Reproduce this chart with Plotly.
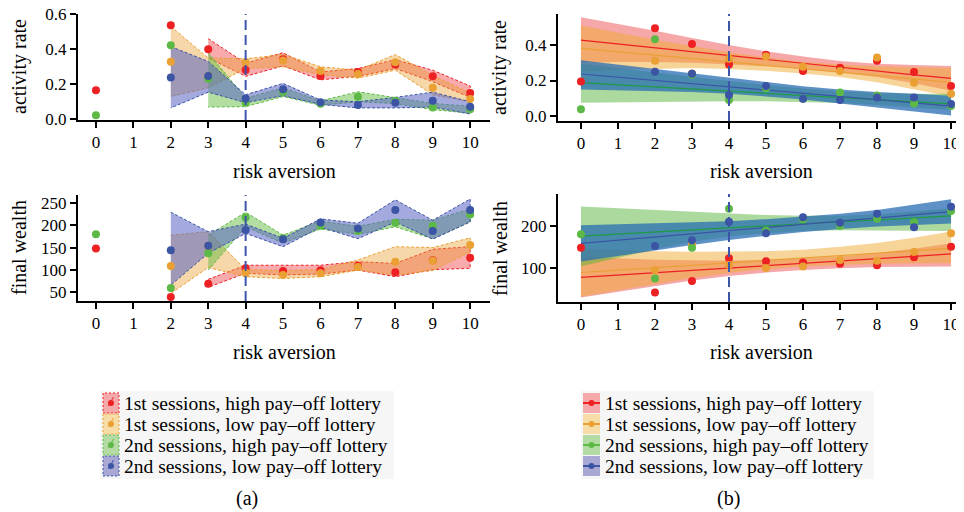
import plotly.graph_objects as go

# page body has an 8px margin; figure is sized to fill the rest of the 964x512 window
OFF = 8
W, H = 964 - OFF, 512 - OFF
FONT = "Liberation Serif"

def px(x):
    return (x - OFF) / W

def py(y):
    return 1 - (y - OFF) / H

# ---------------- data ----------------
xs = [0, 1, 2, 3, 4, 5, 6, 7, 8, 9, 10]
labels = ["1st sessions, high pay\u2013off lottery",
          "1st sessions, low pay\u2013off lottery",
          "2nd sessions, high pay\u2013off lottery",
          "2nd sessions, low pay\u2013off lottery"]

# (a) activity rate: means and bands
a_act_red = [0.166, None, 0.537, 0.400, 0.281, 0.342, 0.247, 0.270, 0.313, 0.245, 0.150]
a_act_org = [None, None, 0.328, 0.247, 0.325, 0.335, 0.275, 0.258, 0.325, 0.180, 0.116]
a_act_grn = [0.023, None, 0.423, 0.232, 0.095, 0.156, 0.089, 0.129, 0.106, 0.068, 0.057]
a_act_blu = [None, None, 0.239, 0.247, 0.118, 0.171, 0.097, 0.082, 0.095, 0.106, 0.072]
a_act_red_lo = [None, None, None, 0.35, 0.245, 0.305, 0.225, 0.245, 0.29, 0.215, 0.125]
a_act_red_hi = [None, None, None, 0.46, 0.32, 0.38, 0.27, 0.29, 0.34, 0.28, 0.19]
a_act_org_lo = [None, None, 0.13, 0.18, 0.29, 0.30, 0.255, 0.235, 0.28, 0.14, 0.10]
a_act_org_hi = [None, None, 0.53, 0.35, 0.345, 0.37, 0.30, 0.28, 0.37, 0.25, 0.15]
a_act_grn_lo = [None, None, None, 0.07, 0.072, 0.13, 0.08, 0.10, 0.09, 0.055, 0.035]
a_act_grn_hi = [None, None, None, 0.38, 0.12, 0.18, 0.105, 0.157, 0.125, 0.09, 0.075]
a_act_blu_lo = [None, None, 0.065, 0.155, 0.095, 0.135, 0.085, 0.065, 0.065, 0.07, 0.03]
a_act_blu_hi = [None, None, 0.415, 0.33, 0.14, 0.205, 0.11, 0.10, 0.125, 0.155, 0.10]

# (a) final wealth
a_wl_red = [148, None, 38, 68, 103, 97, 98.5, 109, 94, 121, 127]
a_wl_org = [None, None, 108, 153, 93, 88, 91.6, 106, 118, 120, 155.7]
a_wl_grn = [180, None, 58.5, 137, 218, 171, 199.4, 187.3, 206, 199.3, 225]
a_wl_blu = [None, None, 144, 154, 190, 169, 207, 193.4, 234.8, 187.3, 234.8]
a_wl_red_lo = [None, None, None, 60, 92, 88, 90, 99, 84, 100, 103]
a_wl_red_hi = [None, None, None, 78, 110, 110, 110, 118, 114, 146, 152]
a_wl_org_lo = [None, None, 46, 105, 84, 80, 84, 99, 88, 98, 140]
a_wl_org_hi = [None, None, 178, 186, 100, 98, 100, 122, 152, 150, 172]
a_wl_grn_lo = [None, None, None, 99, 197, 160, 192, 180, 197, 170, 208]
a_wl_grn_hi = [None, None, None, 178, 230, 178, 210, 198, 214, 212, 237]
a_wl_blu_lo = [None, None, 65, 137, 182, 152, 196, 170, 208, 169, 208]
a_wl_blu_hi = [None, None, 230, 186, 203, 171, 215, 205, 258, 212, 260]

# (b) activity rate: points, fitted lines, confidence bands
b_act_red = [0.195, None, 0.494, 0.406, 0.291, 0.346, 0.254, 0.272, 0.312, 0.248, 0.169]
b_act_org = [None, None, 0.312, 0.24, 0.323, 0.336, 0.278, 0.254, 0.330, 0.188, 0.126]
b_act_grn = [0.038, None, 0.432, 0.233, 0.090, 0.156, 0.098, 0.133, 0.116, 0.071, 0.056]
b_act_blu = [None, None, 0.250, 0.238, 0.118, 0.169, 0.098, 0.090, 0.105, 0.105, 0.068]
b_act_red_fit = [0.428, 0.406, 0.384, 0.363, 0.341, 0.319, 0.297, 0.275, 0.254, 0.232, 0.212]
b_act_red_lo = [0.30, 0.305, 0.305, 0.30, 0.29, 0.28, 0.265, 0.245, 0.22, 0.185, 0.143]
b_act_red_hi = [0.556, 0.52, 0.48, 0.44, 0.40, 0.365, 0.335, 0.31, 0.295, 0.287, 0.282]
b_act_org_fit = [0.381, 0.362, 0.343, 0.324, 0.305, 0.286, 0.267, 0.248, 0.229, 0.21, 0.19]
b_act_org_lo = [0.25, 0.26, 0.265, 0.27, 0.265, 0.255, 0.24, 0.22, 0.19, 0.15, 0.11]
b_act_org_hi = [0.51, 0.47, 0.43, 0.395, 0.36, 0.33, 0.305, 0.29, 0.28, 0.275, 0.27]
b_act_grn_fit = [0.188, 0.176, 0.164, 0.152, 0.140, 0.128, 0.116, 0.104, 0.092, 0.080, 0.068]
b_act_grn_lo = [0.075, 0.078, 0.08, 0.082, 0.083, 0.083, 0.08, 0.073, 0.062, 0.05, 0.034]
b_act_grn_hi = [0.295, 0.27, 0.245, 0.22, 0.197, 0.175, 0.155, 0.14, 0.13, 0.125, 0.125]
b_act_blu_fit = [0.237, 0.219, 0.201, 0.183, 0.165, 0.147, 0.129, 0.111, 0.093, 0.075, 0.056]
b_act_blu_lo = [0.15, 0.145, 0.14, 0.135, 0.125, 0.11, 0.093, 0.07, 0.05, 0.025, 0.003]
b_act_blu_hi = [0.315, 0.29, 0.265, 0.24, 0.215, 0.19, 0.168, 0.15, 0.135, 0.125, 0.115]

# (b) final wealth
b_wl_red = [148.8, None, 42.5, 70, 123.6, 116.5, 113.4, 111, 107, 126, 151]
b_wl_org = [None, None, 96, 156.7, 108, 100.8, 104, 119.7, 118, 138.6, 182.7]
b_wl_grn = [180.3, None, 75.6, 148.8, 241, 189, 215.7, 200, 217.3, 208.7, 235.4]
b_wl_blu = [None, None, 152.8, 166, 210, 182.7, 220.5, 207.9, 229, 196.9, 245.7]
b_wl_red_fit = [78.7, 84, 89.7, 95, 100.8, 106.3, 112, 117, 122.8, 128, 134]
b_wl_red_lo = [31, 45, 58, 71, 82, 90, 96, 100, 103, 104, 104]
b_wl_red_hi = [127, 123, 120, 119, 118, 120, 123, 128, 136, 146, 159]
b_wl_org_fit = [90, 95.7, 101.4, 107, 112.8, 118.5, 124, 130, 135.6, 141.3, 147]
b_wl_org_lo = [33, 48, 63, 77, 89, 98, 104, 108, 111, 112, 112]
b_wl_org_hi = [147, 143, 140, 139, 139, 140, 144, 151, 160, 172, 187]
b_wl_grn_fit = [176, 181, 186, 190, 195, 200, 205, 210, 214, 219, 224]
b_wl_grn_lo = [105, 125, 145, 163, 175, 183, 188, 190, 190, 189, 188]
b_wl_grn_hi = [246, 242, 238, 234, 230, 226, 224, 224, 228, 234, 242]
b_wl_blu_fit = [159, 166.5, 174, 181.5, 189, 196.5, 204, 211.5, 219, 226.5, 234]
b_wl_blu_lo = [116, 129, 142, 155, 167, 177, 186, 193, 199, 203, 206]
b_wl_blu_hi = [202, 204, 206, 208, 211, 216, 222, 229, 238, 250, 263]

# ---------------- styles ----------------
pt_colors = ["#ED2024", "#EAA033", "#5DB946", "#3B54A4"]
line_colors = ["#ED2024", "#EAA033", "#1F9A45", "#3B54A4"]
fill_a = ["rgba(237,32,36,0.38)", "rgba(234,160,51,0.42)",
          "rgba(95,185,60,0.48)", "rgba(89,100,195,0.55)"]
fill_b = ["rgba(235,60,60,0.45)", "rgba(240,170,50,0.5)",
          "rgba(90,180,60,0.5)", "rgba(40,110,180,0.75)"]
swatch = ["#F4A9AB", "#F6DCA6", "#B4DBA3", "#A9A8D4"]

fig = go.Figure()


def band(lo, hi, xa, ya, fill, lcol=None):
    bx = [x for x, v in zip(xs, lo) if v is not None]
    blo = [v for v in lo if v is not None]
    bhi = [v for v in hi if v is not None]
    line = dict(width=0) if lcol is None else dict(color=lcol, width=1, dash="3px,2px")
    fig.add_trace(go.Scatter(x=bx + bx[::-1], y=bhi + blo[::-1], fill="toself",
                             fillcolor=fill, mode="lines", line=line,
                             xaxis=xa, yaxis=ya, showlegend=False, hoverinfo="skip"))


def points(vals, xa, ya, col):
    fig.add_trace(go.Scatter(x=xs, y=vals, mode="markers",
                             marker=dict(color=col, size=8),
                             xaxis=xa, yaxis=ya, showlegend=False))


def fitline(vals, xa, ya, col):
    fig.add_trace(go.Scatter(x=xs, y=vals, mode="lines",
                             line=dict(color=col, width=1.2),
                             xaxis=xa, yaxis=ya, showlegend=False))


# (a) activity
for lo, hi, i in [(a_act_red_lo, a_act_red_hi, 0), (a_act_org_lo, a_act_org_hi, 1),
                  (a_act_grn_lo, a_act_grn_hi, 2), (a_act_blu_lo, a_act_blu_hi, 3)]:
    band(lo, hi, "x", "y", fill_a[i], pt_colors[i])
for v, i in [(a_act_red, 0), (a_act_org, 1), (a_act_grn, 2), (a_act_blu, 3)]:
    points(v, "x", "y", pt_colors[i])

# (a) wealth
for lo, hi, i in [(a_wl_red_lo, a_wl_red_hi, 0), (a_wl_org_lo, a_wl_org_hi, 1),
                  (a_wl_grn_lo, a_wl_grn_hi, 2), (a_wl_blu_lo, a_wl_blu_hi, 3)]:
    band(lo, hi, "x2", "y2", fill_a[i], pt_colors[i])
for v, i in [(a_wl_red, 0), (a_wl_org, 1), (a_wl_grn, 2), (a_wl_blu, 3)]:
    points(v, "x2", "y2", pt_colors[i])

# (b) activity
for lo, hi, i in [(b_act_red_lo, b_act_red_hi, 0), (b_act_org_lo, b_act_org_hi, 1),
                  (b_act_grn_lo, b_act_grn_hi, 2), (b_act_blu_lo, b_act_blu_hi, 3)]:
    band(lo, hi, "x3", "y3", fill_b[i])
for v, i in [(b_act_red_fit, 0), (b_act_org_fit, 1), (b_act_grn_fit, 2), (b_act_blu_fit, 3)]:
    fitline(v, "x3", "y3", line_colors[i])
for v, i in [(b_act_red, 0), (b_act_org, 1), (b_act_grn, 2), (b_act_blu, 3)]:
    points(v, "x3", "y3", pt_colors[i])

# (b) wealth
for lo, hi, i in [(b_wl_red_lo, b_wl_red_hi, 0), (b_wl_org_lo, b_wl_org_hi, 1),
                  (b_wl_grn_lo, b_wl_grn_hi, 2), (b_wl_blu_lo, b_wl_blu_hi, 3)]:
    band(lo, hi, "x4", "y4", fill_b[i])
for v, i in [(b_wl_red_fit, 0), (b_wl_org_fit, 1), (b_wl_grn_fit, 2), (b_wl_blu_fit, 3)]:
    fitline(v, "x4", "y4", line_colors[i])
for v, i in [(b_wl_red, 0), (b_wl_org, 1), (b_wl_grn, 2), (b_wl_blu, 3)]:
    points(v, "x4", "y4", pt_colors[i])

# ---------------- axes ----------------
tickfont = dict(family=FONT, size=17, color="black")
common = dict(showline=True, linecolor="black", linewidth=2, ticks="outside",
              ticklen=6, tickwidth=1.5, tickcolor="black", tickfont=tickfont,
              showgrid=False, zeroline=False, fixedrange=True, automargin=False,
              ticklabeloverflow="allow")
xt = dict(tickmode="array", tickvals=xs, ticktext=[str(v) for v in xs])

left_dom = [px(78), px(490)]
right_dom = [px(558), px(964)]
fig.update_layout(
    xaxis=dict(domain=left_dom, range=[-0.48, 10.53], anchor="y", **xt, **common),
    yaxis=dict(domain=[py(120), py(14)], range=[-0.004, 0.6008], anchor="x",
               tickvals=[0.0, 0.2, 0.4, 0.6], ticktext=["0.0", "0.2", "0.4", "0.6"], **common),
    xaxis2=dict(domain=left_dom, range=[-0.48, 10.53], anchor="y2", **xt, **common),
    yaxis2=dict(domain=[py(301), py(195)], range=[29, 269], anchor="x2",
                tickvals=[50, 100, 150, 200, 250], **common),
    xaxis3=dict(domain=right_dom, range=[-0.62, 10.35], anchor="y3", **xt, **common),
    yaxis3=dict(domain=[py(121), py(14)], range=[-0.028, 0.575], anchor="x3",
                tickvals=[0.0, 0.2, 0.4], ticktext=["0.0", "0.2", "0.4"], **common),
    xaxis4=dict(domain=right_dom, range=[-0.62, 10.35], anchor="y4", **xt, **common),
    yaxis4=dict(domain=[py(302), py(194)], range=[20.3, 275.6], anchor="x4",
                tickvals=[100, 200], **common),
)

shapes = []
# dashed reference line at risk aversion 4
for xa, ya in [("x", "y"), ("x2", "y2"), ("x3", "y3"), ("x4", "y4")]:
    shapes.append(dict(type="line", xref=xa, yref=ya + " domain", x0=4, x1=4, y0=0, y1=1,
                       line=dict(color="#3D55AA", width=2, dash="10px,5px"), layer="above"))

annotations = []


def text(x, y, s, size=20, angle=0, xanchor="center"):
    annotations.append(dict(x=px(x), y=py(y), xref="paper", yref="paper", text=s,
                            showarrow=False, textangle=angle, xanchor=xanchor,
                            yanchor="middle", font=dict(family=FONT, size=size, color="black")))


# axis titles
text(19, 67, "activity rate", angle=-90)
text(19, 248, "final wealth", angle=-90)
text(499, 67, "activity rate", angle=-90)
text(500, 248, "final wealth", angle=-90)
for xc in (284, 761):
    text(xc, 171, "risk aversion")
    text(xc, 352, "risk aversion")

# legends
rows = [403, 424, 445, 466]
shapes.append(dict(type="rect", xref="paper", yref="paper", x0=px(100), x1=px(394),
                   y0=py(479), y1=py(391), fillcolor="#F6F6F6", line=dict(width=0), layer="below"))
shapes.append(dict(type="rect", xref="paper", yref="paper", x0=px(581), x1=px(874),
                   y0=py(479), y1=py(391), fillcolor="#F6F6F6", line=dict(width=0), layer="below"))
for i, yc in enumerate(rows):
    # left legend key
    shapes.append(dict(type="rect", xref="paper", yref="paper", x0=px(103), x1=px(119),
                       y0=py(yc + 10), y1=py(yc - 10), fillcolor=swatch[i],
                       line=dict(color=pt_colors[i], width=1, dash="2px,2px")))
    shapes.append(dict(type="line", xref="paper", yref="paper", x0=px(108.5), x1=px(113.5),
                       y0=py(yc + 3), y1=py(yc - 6), line=dict(color=pt_colors[i], width=1)))
    shapes.append(dict(type="circle", xref="paper", yref="paper", x0=px(108), x1=px(114),
                       y0=py(yc + 3), y1=py(yc - 3), fillcolor=pt_colors[i],
                       line=dict(width=0)))
    text(122, yc, labels[i], size=19.5, xanchor="left")
    # right legend key
    shapes.append(dict(type="rect", xref="paper", yref="paper", x0=px(583), x1=px(600),
                       y0=py(yc + 10), y1=py(yc - 10), fillcolor=swatch[i], line=dict(width=0)))
    shapes.append(dict(type="line", xref="paper", yref="paper", x0=px(583), x1=px(600),
                       y0=py(yc), y1=py(yc), line=dict(color=pt_colors[i], width=2)))
    shapes.append(dict(type="circle", xref="paper", yref="paper", x0=px(588.5), x1=px(594.5),
                       y0=py(yc + 3), y1=py(yc - 3), fillcolor=pt_colors[i],
                       line=dict(width=0)))
    text(603, yc, labels[i], size=19.5, xanchor="left")

text(247, 498, "(a)")
text(728, 498, "(b)")

fig.update_layout(width=W, height=H, autosize=False,
                  margin=dict(l=0, r=0, t=0, b=0, pad=0, autoexpand=False),
                  paper_bgcolor="white", plot_bgcolor="white",
                  showlegend=False, shapes=shapes, annotations=annotations,
                  font=dict(family=FONT, color="black"))

fig.write_html("out.html")
